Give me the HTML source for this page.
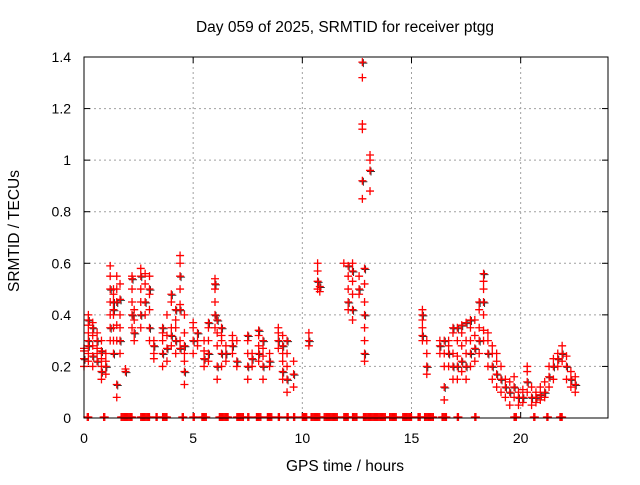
<!DOCTYPE html>
<html><head><meta charset="utf-8"><style>
body{margin:0;background:#fff;}
svg text{font-family:"Liberation Sans",sans-serif;fill:#000;}
</style></head><body>
<svg id="chart" width="640" height="480" xmlns="http://www.w3.org/2000/svg">
<rect width="640" height="480" fill="#fff"/>
<text x="345" y="32" font-size="15.5" text-anchor="middle">Day 059 of 2025, SRMTID for receiver ptgg</text>
<text x="345" y="471" font-size="15.5" text-anchor="middle">GPS time / hours</text>
<text x="19" y="231" font-size="15.5" text-anchor="middle" transform="rotate(-90 19 231)">SRMTID / TECUs</text>
<g id="grid"></g><g id="ticks"></g><g id="blk"></g><g id="red"></g>
<rect x="84" y="57" width="524" height="361" fill="none" stroke="#000" stroke-width="1"/>
</svg>
<script>
const xTicks=[0,5,10,15,20];
const yTicks=[0,0.2,0.4,0.6,0.8,1,1.2,1.4];
const yTickLabels=["0","0.2","0.4","0.6","0.8","1","1.2","1.4"];
const clusterTimes=[0.0,0.2,0.4,0.6,0.8,1.0,1.2,1.35,1.5,1.65,1.9,2.2,2.3,2.6,2.8,3.0,3.2,3.6,3.8,4.0,4.2,4.4,4.6,5.0,5.2,5.5,5.7,6.0,6.1,6.3,6.5,6.8,7.0,7.5,7.7,8.0,8.2,8.5,8.9,9.1,9.3,9.6,10.3,10.7,10.8,11.9,12.1,12.3,12.6,12.75,12.85,13.1,15.5,15.7,16.3,16.5,16.7,16.9,17.1,17.3,17.5,17.7,17.9,18.1,18.3,18.5,18.7,18.9,19.1,19.3,19.5,19.7,19.9,20.1,20.3,20.5,20.7,20.9,21.1,21.3,21.5,21.7,21.9,22.1,22.3,22.5];
const clusterValues=[[0.2,0.23,0.26,0.27],[0.25,0.3,0.33,0.36,0.38,0.4,0.22,0.28],[0.2,0.24,0.28,0.32,0.35,0.37],[0.25,0.3,0.33,0.27,0.22],[0.15,0.18,0.2,0.23,0.26,0.3],[0.17,0.2,0.22,0.25],[0.3,0.35,0.4,0.45,0.5,0.55,0.59],[0.4,0.45,0.5,0.48,0.42,0.35,0.3,0.25],[0.08,0.13,0.3,0.36,0.45,0.5,0.55],[0.25,0.3,0.35,0.4,0.46,0.52],[0.19,0.18],[0.35,0.4,0.45,0.5,0.54,0.55],[0.3,0.33,0.38,0.42],[0.35,0.4,0.45,0.5,0.55,0.58],[0.4,0.45,0.52,0.56],[0.3,0.35,0.42,0.48,0.5,0.55],[0.25,0.28,0.3,0.23],[0.2,0.25,0.3,0.33,0.35],[0.22,0.27,0.32,0.4],[0.28,0.32,0.35,0.45,0.48],[0.25,0.3,0.35,0.38,0.42],[0.5,0.55,0.6,0.63,0.42,0.44,0.3,0.27],[0.13,0.18,0.22,0.25,0.28,0.33,0.4],[0.25,0.3,0.35,0.37],[0.3,0.33,0.28],[0.2,0.23,0.26,0.3],[0.22,0.25,0.3,0.35,0.37],[0.35,0.4,0.45,0.5,0.52,0.54],[0.15,0.2,0.28,0.33,0.38],[0.2,0.25,0.3,0.32,0.35],[0.22,0.25,0.28],[0.25,0.28,0.3,0.32],[0.2,0.22,0.3],[0.15,0.2,0.25,0.3,0.32],[0.2,0.23,0.25],[0.22,0.25,0.28,0.32,0.34],[0.15,0.2,0.24,0.27,0.3],[0.2,0.22,0.25],[0.27,0.3,0.33,0.35],[0.15,0.18,0.22,0.25,0.28,0.32],[0.1,0.15,0.2,0.25,0.3],[0.12,0.17,0.22],[0.28,0.3,0.33],[0.5,0.53,0.57,0.6],[0.49,0.51],[0.6],[0.42,0.45,0.5,0.55,0.59],[0.38,0.42,0.48,0.53,0.57,0.6],[0.48,0.5,0.55],[0.85,0.92,1.14,1.32,1.38,1.12],[0.22,0.25,0.3,0.35,0.4,0.45,0.52,0.58],[0.88,0.96,1.0,1.02],[0.3,0.32,0.35,0.38,0.4,0.42],[0.17,0.2,0.25,0.3],[0.25,0.28,0.3],[0.07,0.12,0.2,0.25,0.3],[0.2,0.25,0.28,0.3],[0.15,0.2,0.25,0.33,0.35],[0.15,0.2,0.24,0.3,0.35],[0.18,0.22,0.28,0.33,0.36],[0.15,0.2,0.25,0.3,0.37],[0.2,0.25,0.3,0.35,0.38],[0.22,0.27,0.32,0.38],[0.25,0.3,0.35,0.42,0.45],[0.4,0.45,0.5,0.53,0.56,0.34,0.3],[0.2,0.25,0.3,0.33],[0.15,0.2,0.25,0.28],[0.12,0.17,0.22,0.25],[0.1,0.15,0.2],[0.08,0.12,0.15],[0.05,0.1,0.14],[0.08,0.12,0.16],[0.05,0.08,0.1],[0.06,0.08,0.11],[0.1,0.14,0.18,0.2],[0.05,0.08,0.12],[0.06,0.08,0.1],[0.07,0.09,0.12],[0.08,0.1,0.14],[0.12,0.16,0.2],[0.15,0.2,0.23],[0.2,0.23,0.25],[0.22,0.25,0.28],[0.15,0.2,0.24],[0.12,0.15,0.18],[0.1,0.13,0.16]];
const zeroStarts=[0.15,0.9,1.7,2.6,3.3,3.6,4.5,5.0,5.4,6.2,7.0,7.5,7.9,8.4,8.9,9.3,9.6,10.0,10.4,11.0,11.9,12.3,12.8,14.0,14.6,15.3,15.6,16.4,17.1,17.9,19.7,20.6,21.2,21.8];
const zeroEnds=[0.2,0.95,2.2,3.0,3.35,3.8,4.55,5.05,5.6,6.6,7.3,7.55,8.1,8.6,8.95,9.35,9.65,10.2,10.8,11.6,12.1,12.5,13.8,14.3,15.0,15.4,16.0,16.6,17.15,17.95,19.8,20.65,21.25,21.9];
const NS="http://www.w3.org/2000/svg";
const X=t=>84+t*524/24, Y=v=>418-v*361/1.4;
function mk(tag,attrs,parent){const e=document.createElementNS(NS,tag);for(const k in attrs)e.setAttribute(k,attrs[k]);parent.appendChild(e);return e;}
const grid=document.getElementById('grid'),ticks=document.getElementById('ticks');
xTicks.forEach(t=>{
 if(t>0){const g=mk('line',{x1:X(t),x2:X(t),y1:57,y2:418,stroke:'#a0a0a0','stroke-dasharray':'2,3'},grid);
 
 }
 mk('line',{x1:X(t),x2:X(t),y1:418,y2:412,stroke:'#000'},ticks);
 mk('line',{x1:X(t),x2:X(t),y1:57,y2:63,stroke:'#000'},ticks);
 const l=mk('text',{x:X(t),y:443,'font-size':14,'text-anchor':'middle'},ticks);l.textContent=t;
 
 
});
yTicks.forEach((v,i)=>{
 if(v>0&&v<1.4){const g=mk('line',{x1:84,x2:608,y1:Y(v),y2:Y(v),stroke:'#a0a0a0','stroke-dasharray':'2,3'},grid);
 
 }
 mk('line',{x1:84,x2:90,y1:Y(v),y2:Y(v),stroke:'#000'},ticks);
 mk('line',{x1:608,x2:602,y1:Y(v),y2:Y(v),stroke:'#000'},ticks);
 const l=mk('text',{x:71,y:Y(v)+5,'font-size':14,'text-anchor':'end'},ticks);l.textContent=yTickLabels[i];
 
 
});
function plus(parent,x,y,c,w){
 return mk('path',{d:`M${x-4},${y}h8M${x},${y-4}v8`,stroke:c,'stroke-width':w,fill:'none'},parent);
}
const blk=document.getElementById('blk'),red=document.getElementById('red');
clusterTimes.forEach((t,i)=>{
 clusterValues[i].forEach((v,j)=>{
  if(j%3===1){
   const b=plus(blk,X(t)+1,Y(v)+1,'#333',1);
   
   
  }
  const r=plus(red,X(t),Y(v),'#f00',1.3);
  
  
 });
});
zeroStarts.forEach((s,i)=>{
 for(let t=s;t<=zeroEnds[i]+1e-6;t+=0.05){
  const r=plus(red,X(t),Y(0)-1,'#f00',1.3);
  
  
 }
});
</script>
</body></html>
